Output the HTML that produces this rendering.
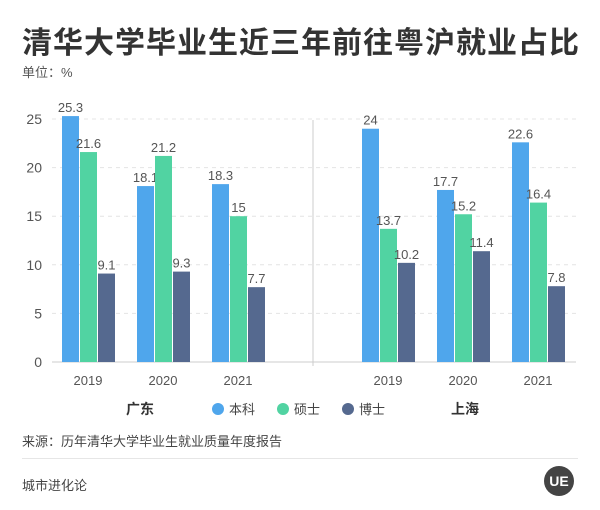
<!DOCTYPE html>
<html><head><meta charset="utf-8"><style>
body{margin:0;width:600px;height:510px;background:#fff;font-family:"Liberation Sans","Noto Sans CJK SC",sans-serif;overflow:hidden;position:relative}
.t{position:absolute;white-space:nowrap}
</style></head><body>
<div class="t" style="left:22px;top:18px;font-size:30px;font-weight:bold;color:#333;letter-spacing:1px">清华大学毕业生近三年前往粤沪就业占比</div>
<div class="t" style="left:22px;top:62px;font-size:13px;color:#555">单位：%</div>
<svg id="c" width="600" height="510" style="position:absolute;left:0;top:0"></svg>
<div class="t" style="left:22px;top:431px;font-size:13px;color:#444">来源：历年清华大学毕业生就业质量年度报告</div>
<div style="position:absolute;left:22px;top:458px;width:556px;height:1px;background:#e6e6e6"></div>
<div class="t" style="left:22px;top:475px;font-size:13px;color:#444">城市进化论</div>
<div style="position:absolute;left:544px;top:466px;width:30px;height:30px;border-radius:50%;background:#444;color:#fff;font-size:14px;font-weight:bold;text-align:center;line-height:30px">UE</div>
<script>
const years=["2019","2020","2021"];
const regions=["广东","上海"];
const benke=[[25.3,18.1,18.3],[24,17.7,22.6]];
const shuoshi=[[21.6,21.2,15],[13.7,15.2,16.4]];
const boshi=[[9.1,9.3,7.7],[10.2,11.4,7.8]];
const ticks=[0,5,10,15,20,25];
const seriesNames=["本科","硕士","博士"];
const colors=["#4fa6ec","#51d3a2","#55698f"];
const svg=document.getElementById('c');const NS="http://www.w3.org/2000/svg";
function mk(tag,attrs,txt){const e=document.createElementNS(NS,tag);for(const k in attrs)e.setAttribute(k,attrs[k]);if(txt!==undefined)e.textContent=txt;svg.appendChild(e);return e;}
const y0=362,pu=9.72;
function y(v){return y0-v*pu;}
function xc(r,i){return 88+r*300+i*75;}
ticks.forEach(t=>{
 if(t>0){const g=mk('line',{x1:52,x2:576,y1:y(t),y2:y(t),stroke:'#e4e4e4','stroke-dasharray':'4,4'});
 
 }
 const l=mk('text',{x:42,y:y(t)+5,'text-anchor':'end','font-size':14,fill:'#555'},t);
 
 
});
const ax=mk('line',{x1:52,x2:576,y1:y0,y2:y0,stroke:'#ccc'});


const sep=mk('line',{x1:313,x2:313,y1:120,y2:366,stroke:'#ccc'});


const all=[benke,shuoshi,boshi];
regions.forEach((rg,r)=>{
 years.forEach((yr,i)=>{
  const c=xc(r,i);
  const tl=mk('text',{x:c,y:385,'text-anchor':'middle','font-size':13,fill:'#555'},yr);
  
  
  all.forEach((s,k)=>{
   const v=s[r][i];const bx=c-26+k*18;
   const b=mk('rect',{x:bx,y:y(v),width:17,height:v*pu,fill:colors[k]});
   
   
   const vl=mk('text',{x:bx+8.5,y:y(v)-4,'text-anchor':'middle','font-size':13,fill:'#555'},v);
   
   
  });
 });
 const rl=mk('text',{x:r?465:140,y:414,'text-anchor':'middle','font-size':14,'font-weight':'bold',fill:'#333'},rg);
 
 
});
seriesNames.forEach((n,k)=>{
 const lx=218+k*65;
 const d=mk('circle',{cx:lx,cy:409,r:6,fill:colors[k]});
 
 
 const lt=mk('text',{x:lx+11,y:414,'font-size':13,fill:'#444'},n);
 
 
});
</script>
</body></html>
